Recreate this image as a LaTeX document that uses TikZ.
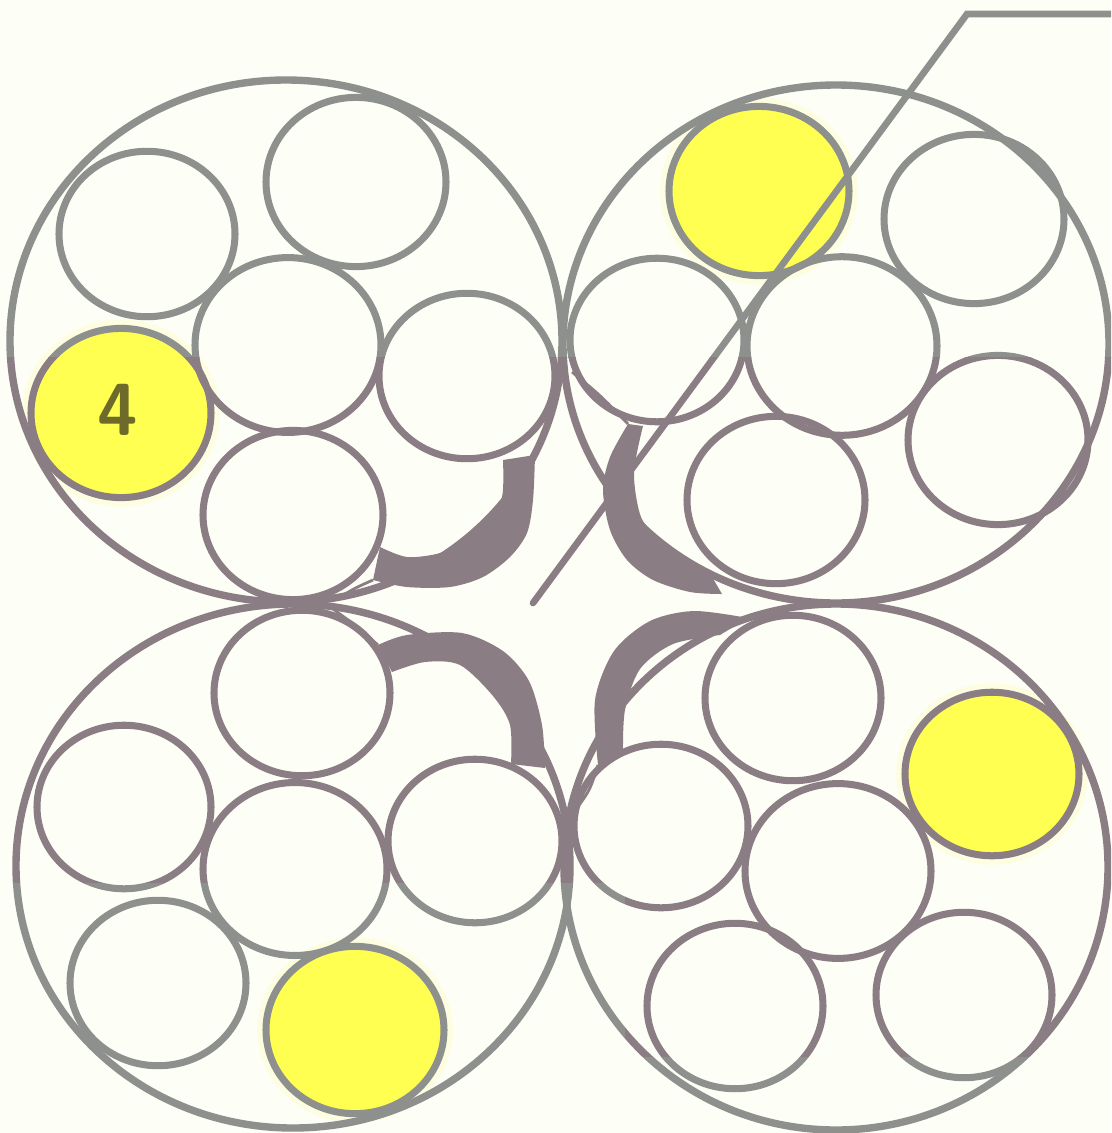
\documentclass[tikz,border=0pt]{standalone}
\usepackage{tikz}
\usetikzlibrary{calc}
\definecolor{grisdoux}{RGB}{142, 144, 141}
\definecolor{mauvedoux}{RGB}{138, 125, 132}
\definecolor{jaunedoux}{RGB}{255, 255, 82}
\definecolor{cremedoux}{RGB}{253, 254, 245}
\definecolor{olivedoux}{RGB}{110, 106, 42}
\colorlet{trait}{grisdoux}
\tikzset{
  gaine/.style={draw=trait, line width=2.1pt},
  fil/.style={draw=trait, line width=2pt},
  crochet/.style={fill=trait},
  queue/.style={draw=trait, line width=0.8pt},
  renvoi/.style={draw=trait, line width=1.9pt, line cap=round}
}
% tout le trait, dans la couleur 'trait'
\newcommand{\toron}{%
  % gaines
  \foreach \x/\y/\rx/\ry in {286/341/276/261, 836/344/273/259, 293/866/277/262, 836/867/272/263}
    \draw[gaine] (\x,\y) ellipse [x radius=\rx, y radius=\ry];
  % fils
  \foreach \x/\y/\r in {147/234/88, 356/182/90, 288/345/93, 467/376/88, 121/413/90, 293/515/90,
                        759/191/90, 974/219/90, 657/340/87, 842/346/95, 998/440/90, 776/500/89,
                        302/693/88, 124/807/87, 295/869/92, 475/841/87, 158/983/88, 355/1030/89,
                        793/698/88, 992/774/87, 661/826/87, 838/871/93, 735/1006/88, 964/995/88}
    \draw[fil] (\x,\y) ellipse [x radius=\r, y radius=0.94*\r];
  % crochets
  \fill[crochet] plot[smooth] coordinates {(535,455) (533,500) (527,533) (510,557) (483,577) (450,587) (407,587) (373,580)}
    -- plot[smooth] coordinates {(380,547) (407,557) (440,553) (460,540) (487,517) (502,497) (503,460)} -- cycle;
  \fill[crochet] plot[smooth] coordinates {(628,424) (610,457) (603,490) (610,530) (627,560) (653,580) (690,592) (722,594)}
    -- plot[smooth] coordinates {(708,570) (687,559) (660,539) (641,517) (634,473) (643,426)} -- cycle;
  \fill[crochet] plot[smooth] coordinates {(378,645) (407,635) (462,633) (503,651) (529,681) (542,725) (545,768)}
    -- plot[smooth] coordinates {(511,764) (510,725) (493,696) (460,665) (425,662) (392,672)} -- cycle;
  \fill[crochet] plot[smooth] coordinates {(598,765) (595,700) (614,651) (650,621) (694,611) (748,618)}
    -- plot[smooth] coordinates {(720,635) (673,644) (640,669) (625,710) (623,752)} -- cycle;
  \draw[queue] (373,580) .. controls (355,588) .. (335,600);
  \draw[queue] (378,645) .. controls (355,625) .. (333,609);
  \draw[queue] (628,424) .. controls (600,395) .. (572,372);
  \draw[queue] (598,765) .. controls (590,790) .. (577,808);
  % ligne de renvoi
  \draw[renvoi] (pointe) -- (coude) -- (bord);
}

\begin{document}
\begin{tikzpicture}[x=0.01cm, y=-0.01cm]
  \useasboundingbox (0,0) rectangle (1111,1133);
  \fill[cremedoux] (0,0) rectangle (1111,1133);
  \coordinate (pointe) at (533,603);
  \coordinate (coude) at (967,14);
  \coordinate (bord) at (1111,14);
  % fils marques (jaunes)
  \foreach \x/\y/\r in {121/413/90, 759/191/90, 355/1030/89, 992/774/87} {
    \fill[jaunedoux, opacity=0.12] (\x,\y) ellipse [x radius=\r+9, y radius=0.94*\r+9];
    \fill[jaunedoux] (\x,\y) ellipse [x radius=\r, y radius=0.94*\r];
  }
  % bandes de couleur du trait
  \begin{scope}
    \clip (0,0) rectangle (1111,357);
    \colorlet{trait}{grisdoux}
    \toron
  \end{scope}
  \begin{scope}
    \clip (0,357) -- (1111,357) -- (1111,1057) -- (625,1057) -- (625,883) -- (0,883) -- cycle;
    \colorlet{trait}{mauvedoux}
    \toron
  \end{scope}
  \begin{scope}
    \clip (0,883) -- (625,883) -- (625,1057) -- (1111,1057) -- (1111,1133) -- (0,1133) -- cycle;
    \colorlet{trait}{grisdoux}
    \toron
  \end{scope}
  \node[text=olivedoux, font=\sffamily\bfseries\fontsize{21}{21}\selectfont] (quatre) at (118,410) {4};
\end{tikzpicture}
\end{document}
